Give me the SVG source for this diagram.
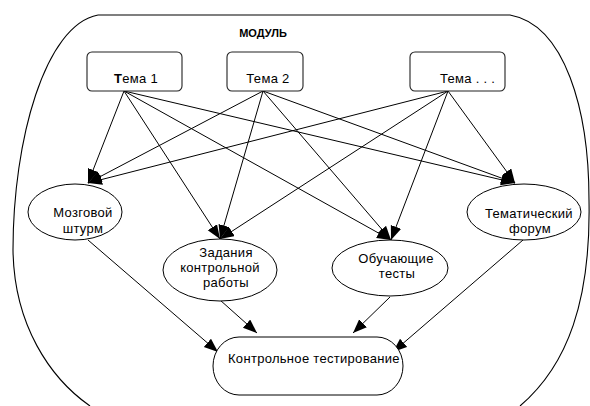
<svg xmlns="http://www.w3.org/2000/svg" width="590" height="406" viewBox="0 0 590 406">
  <defs>
    <marker id="arrow" markerUnits="userSpaceOnUse" markerWidth="15" markerHeight="12" refX="14" refY="5.5" orient="auto">
      <path d="M0,0 L14,5.5 L0,11 Z" fill="#000"/>
    </marker>
    <style>
      text { font-family: "Liberation Sans", Arial, sans-serif; fill: #000; letter-spacing: 0.3px; }
      .lbl { font-size: 13px; text-anchor: middle; }
      .title { font-size: 11px; font-weight: bold; text-anchor: middle; letter-spacing: 0; }
      .box { fill: #fff; stroke: #222; stroke-width: 1.1; }
      .oval { fill: #fff; stroke: #000; stroke-width: 1; }
      .edge { stroke: #000; stroke-width: 1; fill: none; marker-end: url(#arrow); }
      .frame { fill: none; stroke: #000; stroke-width: 1.1; }
    </style>
  </defs>
  <rect width="590" height="406" fill="#fff"/>

  <!-- module frame -->
  <g id="module">
    <path class="frame" d="M98,15 L510,15 C565,25 589,110 589,200 C591,300 568,365 520,406 M98,15 C45,25 13,140 13,250 C14,325 50,378 90,406"/>
    <text class="title" x="263" y="37">МОДУЛЬ</text>
  </g>

  <!-- connectors -->
  <g id="connectors">
    <line class="edge" x1="124" y1="91" x2="88" y2="183"/>
    <line class="edge" x1="124" y1="91" x2="220" y2="239"/>
    <line class="edge" x1="124" y1="91" x2="391" y2="240"/>
    <line class="edge" x1="124" y1="91" x2="515" y2="183"/>
    <line class="edge" x1="263" y1="91" x2="88" y2="183"/>
    <line class="edge" x1="263" y1="91" x2="220" y2="239"/>
    <line class="edge" x1="263" y1="91" x2="391" y2="240"/>
    <line class="edge" x1="263" y1="91" x2="515" y2="183"/>
    <line class="edge" x1="448" y1="91" x2="88" y2="183"/>
    <line class="edge" x1="448" y1="91" x2="220" y2="239"/>
    <line class="edge" x1="448" y1="91" x2="391" y2="240"/>
    <line class="edge" x1="448" y1="91" x2="515" y2="183"/>
    <line class="edge" x1="88" y1="240" x2="218" y2="352"/>
    <line class="edge" x1="220" y1="300" x2="257" y2="333"/>
    <line class="edge" x1="390" y1="297" x2="353" y2="333"/>
    <line class="edge" x1="523" y1="240" x2="393" y2="352"/>
  </g>

  <!-- topics -->
  <g id="topic1">
    <rect class="box" x="87" y="52" width="95" height="39" rx="5"/>
    <text class="lbl" x="136" y="83"><tspan font-weight="bold">Т</tspan>ема 1</text>
  </g>
  <g id="topic2">
    <rect class="box" x="227" y="52" width="76" height="39" rx="5"/>
    <text class="lbl" x="268" y="83">Тема 2</text>
  </g>
  <g id="topic3">
    <rect class="box" x="410" y="52" width="95" height="39" rx="5"/>
    <text x="440" y="83" font-size="13">Тема . . .</text>
  </g>

  <!-- activities -->
  <g id="brainstorm">
    <ellipse class="oval" cx="75" cy="212" rx="47" ry="28"/>
    <text class="lbl" x="83" y="217">Мозговой</text>
    <text class="lbl" x="83" y="233">штурм</text>
  </g>
  <g id="assignments">
    <ellipse class="oval" cx="220" cy="270" rx="57" ry="31"/>
    <text class="lbl" x="226" y="257">Задания</text>
    <text class="lbl" x="220" y="272">контрольной</text>
    <text class="lbl" x="226" y="287">работы</text>
  </g>
  <g id="tests">
    <ellipse class="oval" cx="390" cy="268" rx="58" ry="28"/>
    <text class="lbl" x="396" y="263">Обучающие</text>
    <text class="lbl" x="397" y="278">тесты</text>
  </g>
  <g id="forum">
    <ellipse class="oval" cx="524" cy="212" rx="57" ry="28"/>
    <text class="lbl" x="529" y="218">Тематический</text>
    <text class="lbl" x="530" y="233">форум</text>
  </g>

  <!-- final assessment -->
  <g id="final-test">
    <rect class="oval" x="213" y="337" width="190" height="58" rx="26" ry="29"/>
    <text x="228" y="363" font-size="13">Контрольное тестирование</text>
  </g>
</svg>
